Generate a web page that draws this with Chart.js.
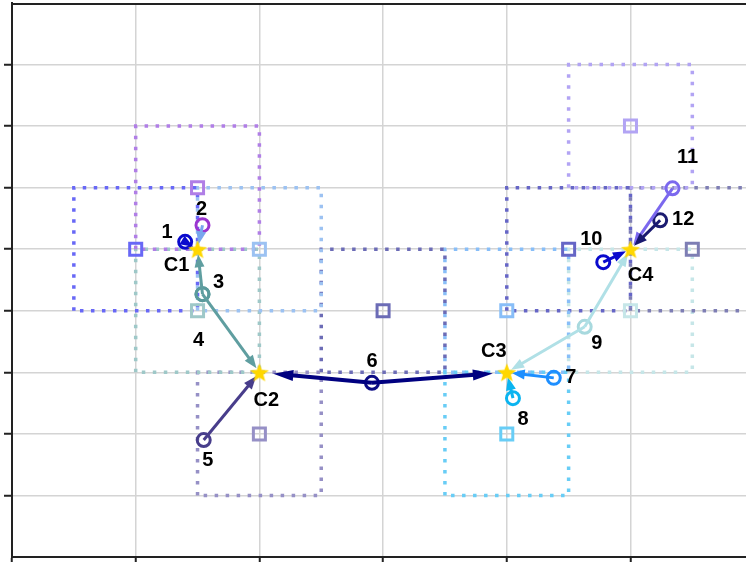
<!DOCTYPE html>
<html>
<head>
<meta charset="utf-8">
<script src="https://cdn.jsdelivr.net/npm/chart.js@4.4.1/dist/chart.umd.min.js"></script>
<style>
  html, body { margin: 0; padding: 0; background: #fff; }
  canvas { display: block; }
</style>
</head>
<body>
<canvas id="chart" width="746" height="562"></canvas>
<script>
// Cluster centres (gold stars).
const centerNames = ["C1", "C2", "C3", "C4"];
const centerX = [1.5, 2, 4, 5];
const centerY = [5, 3, 3, 5];

// Sample points and the centre(s) each one is pulled toward.
const pointNames = ["1", "2", "3", "4", "5", "6", "7", "8", "9", "10", "11", "12"];
const pointX = [1.40, 1.54, 1.54, 1.54, 1.55, 2.91, 4.38, 4.05, 4.63, 4.78, 5.34, 5.24];
const pointY = [5.12, 5.39, 4.27, 4.27, 1.90, 2.83, 2.91, 2.58, 3.74, 4.79, 5.99, 5.47];
const pointTargets = [[0], [0], [0], [1], [1], [1, 2], [2], [2], [2, 3], [3], [3], [3]];

// Grid cells: square marker at the middle, dotted outline around it.
const cellX = [1, 1.5, 2, 1.5, 2, 3, 4, 4, 4.5, 5, 5.5, 5];
const cellY = [5, 6, 5, 4, 2, 4, 2, 4, 5, 7, 5, 4];
const cellHalfW = 0.5;
const cellHalfH = 1;

// Axis ticks (no labels, marks only).
const xTicks = [0, 1, 2, 3, 4, 5];
const yTicks = [1, 2, 3, 4, 5, 6, 7, 8];

// --- styling ---------------------------------------------------------------
const pointColors = ["#0a0acd", "#9b35d0", "#4f9696", "#5a9a9c", "#473d8b", "#0a0a84",
                     "#1e8fff", "#0bb4f0", "#a8d9de", "#0a0acd", "#7b68ee", "#1b1b70"];
const arrowColors = ["#0a0acd", "#78a6ee", "#5f9ea0", "#5f9ea0", "#483d8b", "#000080",
                     "#1e8fff", "#0bb4f0", "#b0e0e6", "#0a0acd", "#7b68ee", "#191970"];
const cellColors = ["#6868f6", "#b07ee6", "#9cc2f2", "#9ec8c8", "#9690c6", "#6c6cb6",
                    "#68cdf6", "#88bef8", "#6666c6", "#b2a4f4", "#7e7eb4", "#c6e6e8"];
const labelFont = 'bold 20px "Liberation Sans", Arial, sans-serif';
const pointLabelOffset = [[-18, -9], [-1, -16], [16, -12], [-4, 46], [4, 20], [0, -21],
                          [17, 0], [10, 21], [12, 17], [-12, -23], [15, -31], [23, -1]];
const centerLabelOffset = [[-21, 16], [7, 28], [-13, -21], [10, 26]];
const heavyArrow = { width: 4, head: 20, headW: 11, shrink: 14 };
const lightArrow = { width: 3, head: 13, headW: 10, shrink: 5 };

function starImage(r, color) {
  const c = document.createElement("canvas");
  const s = Math.ceil(r * 2 + 4);
  c.width = c.height = s;
  const g = c.getContext("2d");
  g.translate(s / 2, s / 2 + r * 0.1);
  g.beginPath();
  for (let k = 0; k < 10; k++) {
    const rad = k % 2 ? r * 0.42 : r;
    const a = -Math.PI / 2 + k * Math.PI / 5;
    g.lineTo(rad * Math.cos(a), rad * Math.sin(a));
  }
  g.closePath();
  g.fillStyle = color;
  g.fill();
  return c;
}

function drawArrow(ctx, x0, y0, x1, y1, color, st) {
  const dx = x1 - x0, dy = y1 - y0;
  const len = Math.hypot(dx, dy);
  const ux = dx / len, uy = dy / len;
  const tx = x1 - ux * st.shrink, ty = y1 - uy * st.shrink;
  const bx = tx - ux * st.head, by = ty - uy * st.head;
  ctx.strokeStyle = color;
  ctx.fillStyle = color;
  ctx.lineWidth = st.width;
  ctx.lineCap = "butt";
  ctx.beginPath();
  ctx.moveTo(x0, y0);
  ctx.lineTo(bx + ux * 2, by + uy * 2);
  ctx.stroke();
  ctx.beginPath();
  ctx.moveTo(tx, ty);
  ctx.lineTo(bx - uy * st.headW / 2, by + ux * st.headW / 2);
  ctx.lineTo(bx + uy * st.headW / 2, by - ux * st.headW / 2);
  ctx.closePath();
  ctx.fill();
}

// arrows sit on top of the circles but under the stars
const arrowPlugin = {
  id: "arrows",
  afterDatasetDraw(chart, args) {
    if (chart.data.datasets[args.index].label !== "points") return;
    const { ctx, chartArea: a } = chart;
    const { x, y } = chart.scales;
    ctx.save();
    ctx.beginPath();
    ctx.rect(a.left, a.top, a.right - a.left, a.bottom - a.top);
    ctx.clip();
    pointX.forEach((px, i) => {
      pointTargets[i].forEach(c => {
        drawArrow(ctx,
          x.getPixelForValue(px), y.getPixelForValue(pointY[i]),
          x.getPixelForValue(centerX[c]), y.getPixelForValue(centerY[c]),
          arrowColors[i], i === 5 ? heavyArrow : lightArrow);
      });
    });
    ctx.restore();
  },
};

const labelPlugin = {
  id: "labels",
  afterDatasetsDraw(chart) {
    const { ctx } = chart;
    const { x, y } = chart.scales;
    ctx.save();
    ctx.font = labelFont;
    ctx.fillStyle = "#000";
    ctx.textAlign = "center";
    ctx.textBaseline = "middle";
    pointNames.forEach((t, i) => {
      ctx.fillText(t, x.getPixelForValue(pointX[i]) + pointLabelOffset[i][0],
                      y.getPixelForValue(pointY[i]) + pointLabelOffset[i][1]);
    });
    centerNames.forEach((t, i) => {
      ctx.fillText(t, x.getPixelForValue(centerX[i]) + centerLabelOffset[i][0],
                      y.getPixelForValue(centerY[i]) + centerLabelOffset[i][1]);
    });
    ctx.restore();
  },
};

// top spine; the right one falls outside the canvas
const frameTop = {
  id: "frameTop",
  afterDraw(chart) {
    const { ctx, chartArea: a } = chart;
    ctx.save();
    ctx.strokeStyle = "#222";
    ctx.lineWidth = 2;
    ctx.beginPath();
    ctx.moveTo(a.left - 1, a.top + 1);
    ctx.lineTo(a.right, a.top + 1);
    ctx.stroke();
    ctx.restore();
  },
};

const cellOutlines = cellX.map((cx, i) => {
  const cy = cellY[i];
  return {
    label: "cell" + i,
    data: [
      { x: cx - cellHalfW, y: cy - cellHalfH }, { x: cx - cellHalfW, y: cy + cellHalfH },
      { x: cx + cellHalfW, y: cy + cellHalfH }, { x: cx + cellHalfW, y: cy - cellHalfH },
      { x: cx - cellHalfW, y: cy - cellHalfH },
    ],
    showLine: true,
    borderColor: cellColors[i],
    borderWidth: 3.5,
    borderDash: [3.5, 7.5],
    borderCapStyle: "butt",
    pointRadius: 0,
    order: 5,
  };
});

const grid = "#d4d4d4";

new Chart(document.getElementById("chart"), {
  type: "scatter",
  data: {
    datasets: [
      {
        label: "centres",
        data: centerX.map((v, i) => ({ x: v, y: centerY[i] })),
        pointStyle: starImage(10, "#ffd700"),
        order: 0,
      },
      {
        label: "points",
        data: pointX.map((v, i) => ({ x: v, y: pointY[i] })),
        pointStyle: "circle",
        radius: 6.5,
        borderWidth: 3,
        borderColor: pointColors,
        backgroundColor: "rgba(0,0,0,0)",
        order: 1,
      },
      {
        label: "cells",
        data: cellX.map((v, i) => ({ x: v, y: cellY[i] })),
        pointStyle: "rect",
        radius: 8.5,
        borderWidth: 3,
        borderColor: cellColors,
        backgroundColor: "rgba(0,0,0,0)",
        order: 2,
      },
      ...cellOutlines,
    ],
  },
  options: {
    responsive: false,
    animation: false,
    events: [],
    layout: { autoPadding: false, padding: { left: 4, top: 3, right: 0, bottom: 0 } },
    scales: {
      x: {
        type: "linear", min: 0, max: 5.934,
        afterBuildTicks: s => { s.ticks = xTicks.map(v => ({ value: v })); },
        ticks: { display: false },
        grid: { color: grid, lineWidth: 1.5, tickColor: "#222", tickWidth: 2, tickLength: 5 },
        border: { color: "#222", width: 2 },
      },
      y: {
        type: "linear", min: 0, max: 9,
        afterBuildTicks: s => { s.ticks = yTicks.map(v => ({ value: v })); },
        ticks: { display: false },
        grid: { color: grid, lineWidth: 1.5, tickColor: "#222", tickWidth: 2, tickLength: 8 },
        border: { color: "#222", width: 2 },
      },
    },
    plugins: { legend: { display: false }, tooltip: { enabled: false } },
  },
  plugins: [arrowPlugin, labelPlugin, frameTop],
});
</script>
</body>
</html>
